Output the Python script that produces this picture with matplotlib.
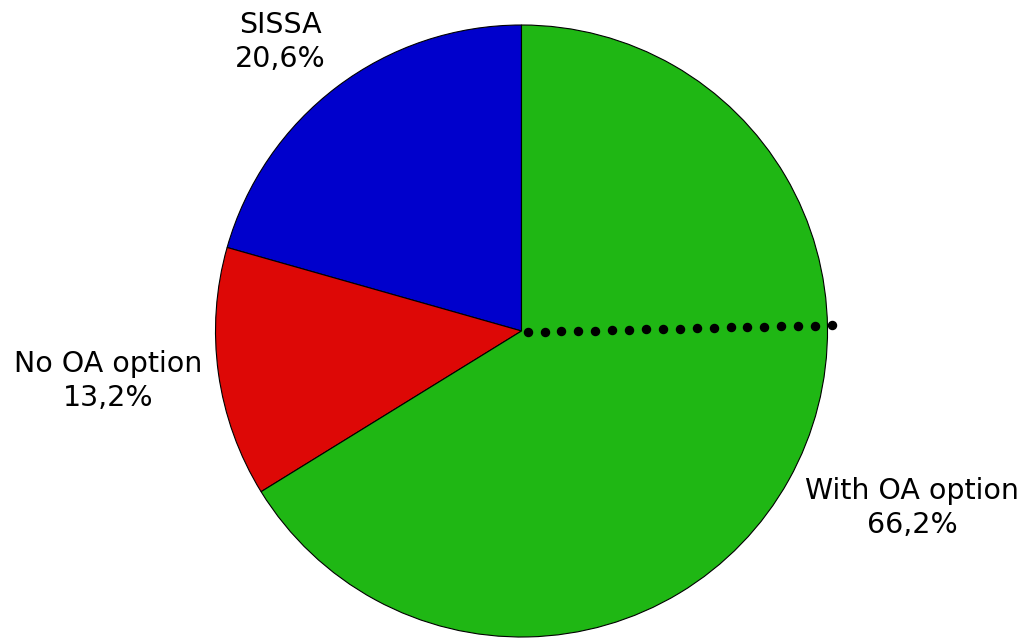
import numpy as np
from matplotlib import pyplot as plt

labels = ['SISSA', 'No OA option', 'With OA option']
shares = [20.6, 13.2, 66.2]
pct_text = ['20,6%', '13,2%', '66,2%']
colors = ['#0000CC', '#DD0806', '#1FB714']

W, H = 1024, 638
cx, cy, r = 521.5, 331, 306  # pie centre / radius in pixels


def px(x, y):
    return (x - cx) / r, (cy - y) / r


fig = plt.figure(figsize=(W / 100, H / 100), dpi=100)
ax = fig.add_axes([0, 0, 1, 1])
ax.axis('off')

ax.pie(shares, colors=colors, startangle=90, counterclock=True, radius=1,
       wedgeprops=dict(edgecolor='black', linewidth=0.8))
ax.set_xlim(-cx / r, (W - cx) / r)
ax.set_ylim(-(H - cy) / r, cy / r)
ax.set_aspect('auto')

# dotted line from centre to the rim
ang = np.deg2rad(1.3)
t = np.linspace(0.02, 1.015, 19)
ax.plot(t * np.cos(ang), t * np.sin(ang) - 0.004, 'o', color='black',
        markersize=5.8, clip_on=False)

label_pos = [(280, 42), (108, 381), (912, 508)]
for lab, p, pos in zip(labels, pct_text, label_pos):
    x, y = px(*pos)
    ax.text(x, y, lab + '\n' + p, ha='center', va='center', fontsize=20.5,
            linespacing=1.25, family='DejaVu Sans')

fig.savefig('out.png', dpi=100)
